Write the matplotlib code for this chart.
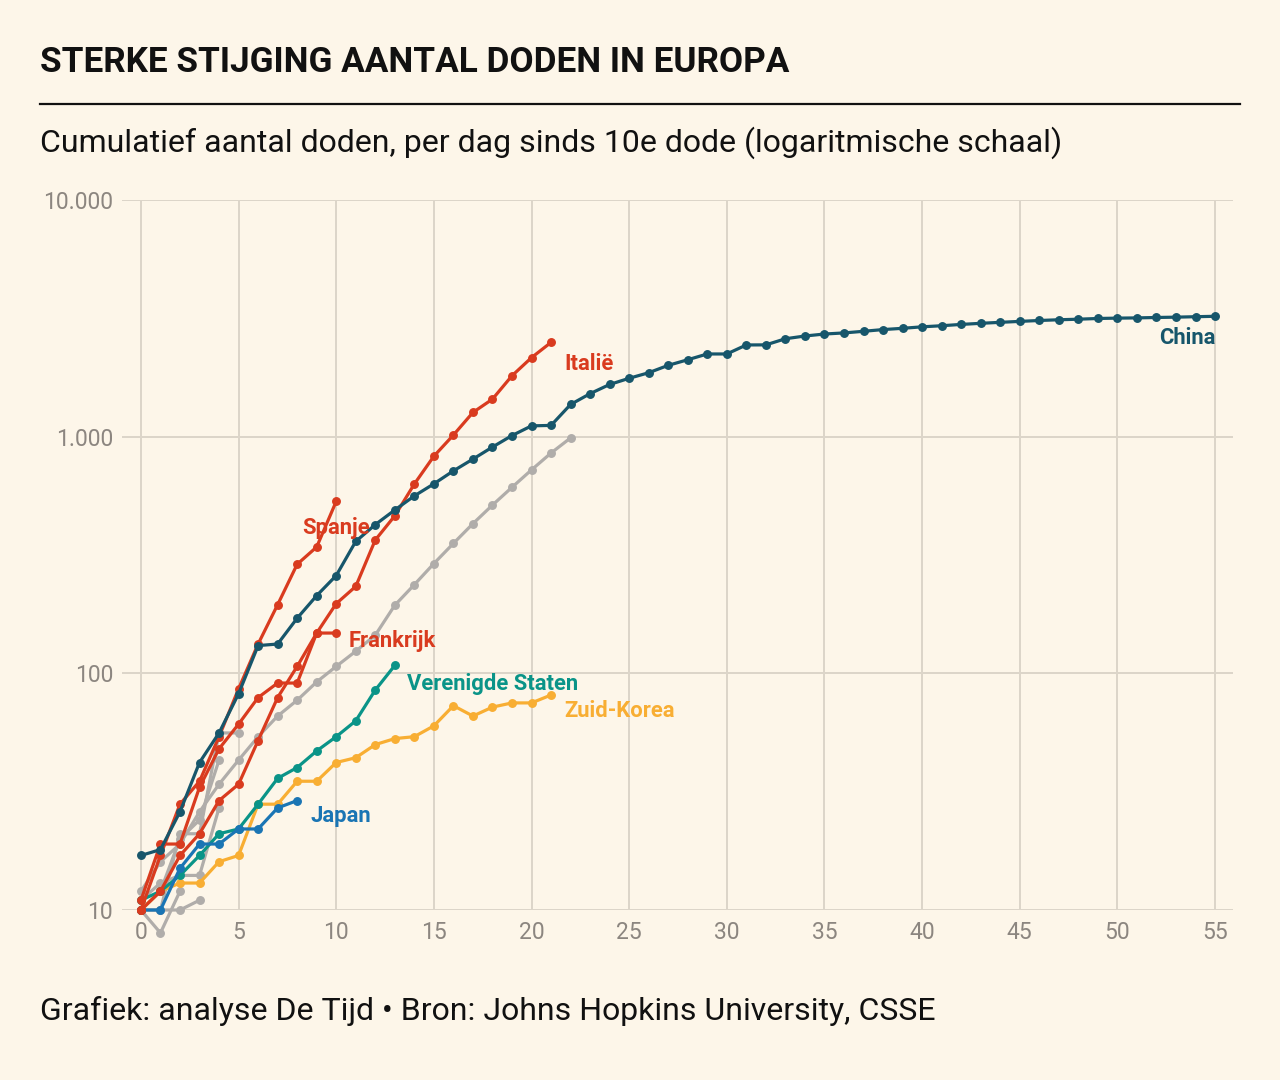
import matplotlib.pyplot as plt
from matplotlib.lines import Line2D
from matplotlib.ticker import FixedLocator, FuncFormatter

plt.rcParams['font.family'] = ['Roboto', 'DejaVu Sans']

BG = '#fdf6e9'
GRID = '#dcd5c9'
TICK = '#8c8680'

# cumulative deaths per day since the 10th death
china = [17, 18, 26, 42, 56, 82, 131, 133, 171, 213, 259, 361, 425, 490, 562,
         632, 717, 804, 904, 1011, 1111, 1116, 1368, 1520, 1662, 1765, 1863,
         2002, 2114, 2236, 2236, 2441, 2443, 2593, 2663, 2715, 2744, 2788,
         2835, 2870, 2912, 2943, 2981, 3013, 3042, 3070, 3097, 3119, 3136,
         3158, 3169, 3176, 3189, 3199, 3213, 3226]
italie = [10, 12, 17, 21, 29, 34, 52, 79, 107, 148, 197, 233, 366, 463, 631,
          827, 1016, 1266, 1441, 1809, 2158, 2503]
spanje = [10, 17, 28, 35, 54, 86, 133, 195, 289, 342, 533]
frankrijk = [11, 19, 19, 33, 48, 61, 79, 91, 91, 148, 148]
vs = [11, 12, 14, 17, 21, 22, 28, 36, 40, 47, 54, 63, 85, 108]
zuid_korea = [10, 12, 13, 13, 16, 17, 28, 28, 35, 35, 42, 44, 50, 53, 54, 60,
              73, 66, 72, 75, 75, 81]
japan = [10, 10, 15, 19, 19, 22, 22, 27, 29]

# other countries, drawn in grey without labels
iran = [12, 16, 19, 26, 34, 43, 54, 66, 77, 92, 107, 124, 145, 194, 237, 291,
        354, 429, 514, 611, 724, 853, 988]
verenigd_koninkrijk = [10, 10, 21, 21, 56, 56]
nederland = [10, 12, 20, 24, 43]
zwitserland = [11, 13, 14, 14, 27]
grijs_a = [10, 10, 10, 11]
grijs_b = [10, 8, 12]
zwart = [10]

grey_series = [iran, verenigd_koninkrijk, nederland, zwitserland, grijs_a, grijs_b]

# (values, colour, label, label offset in points, ha)
highlighted = [
    (zuid_korea, '#f8ae33', 'Zuid-Korea', (9.4, -11.5), 'left'),
    (vs, '#0a9488', 'Verenigde Staten', (8.6, -13.7), 'left'),
    (japan, '#1a75b4', 'Japan', (9.4, -10.8), 'left'),
    (frankrijk, '#d93b1f', 'Frankrijk', (8.6, -5.8), 'left'),
    (spanje, '#d93b1f', 'Spanje', (0, -19.4), 'center'),
    (italie, '#d93b1f', 'Italië', (9.4, -15.8), 'left'),
    (china, '#17566b', 'China', (0, -15.8), 'right'),
]

x_ticks = list(range(0, 56, 5))
y_ticks = [10, 100, 1000, 10000]


def dutch_int(v, pos=None):
    return f"{int(round(v)):,}".replace(',', '.')


fig = plt.figure(figsize=(12.8, 10.8), dpi=100, facecolor=BG)
ax = fig.add_axes([0.0953, 0.1574, 0.868, 0.6574])
ax.set_facecolor(BG)

style = dict(marker='o', ms=5.4, lw=2.3, clip_on=False,
             solid_joinstyle='round', solid_capstyle='round', zorder=3)

for vals in grey_series:
    ax.plot(range(len(vals)), vals, color='#b0adaa', **style)
ax.plot(range(len(zwart)), zwart, color='#1a1a1a', **style)

for vals, col, label, off, ha in highlighted:
    ax.plot(range(len(vals)), vals, color=col, **style)
    ax.annotate(label, xy=(len(vals) - 1, vals[-1]), xytext=off,
                textcoords='offset points', ha=ha, va='center',
                color=col, fontsize=15.8, fontweight='bold', zorder=5)

ax.set_yscale('log')
ax.set_ylim(10, 10000)
ax.set_xlim(-0.97, 55.92)
ax.yaxis.set_major_locator(FixedLocator(y_ticks))
ax.yaxis.set_minor_locator(FixedLocator([]))
ax.yaxis.set_major_formatter(FuncFormatter(dutch_int))
ax.xaxis.set_major_locator(FixedLocator(x_ticks))

ax.grid(True, which='major', color=GRID, lw=1.4, zorder=0)
ax.set_axisbelow(True)
for side in ax.spines.values():
    side.set_visible(False)
ax.tick_params(axis='both', length=0, labelsize=16.5, labelcolor=TICK)
ax.tick_params(axis='y', pad=6.5)
ax.tick_params(axis='x', pad=8)

fig.text(40 / 1280, 1 - 63 / 1080, 'STERKE STIJGING AANTAL DODEN IN EUROPA',
         fontsize=25.3, fontweight='bold', va='center', ha='left', color='#111111')
fig.add_artist(Line2D([40 / 1280, 1240 / 1280], [1 - 104 / 1080] * 2,
                      color='#111111', lw=1.6))
fig.text(40 / 1280, 1 - 143 / 1080,
         'Cumulatief aantal doden, per dag sinds 10e dode (logaritmische schaal)',
         fontsize=23, va='center', ha='left', color='#111111')
fig.text(40 / 1280, 1 - 1011 / 1080,
         'Grafiek: analyse De Tijd • Bron: Johns Hopkins University, CSSE',
         fontsize=23, va='center', ha='left', color='#111111')

fig.savefig('out.png', dpi=100, facecolor=BG)
